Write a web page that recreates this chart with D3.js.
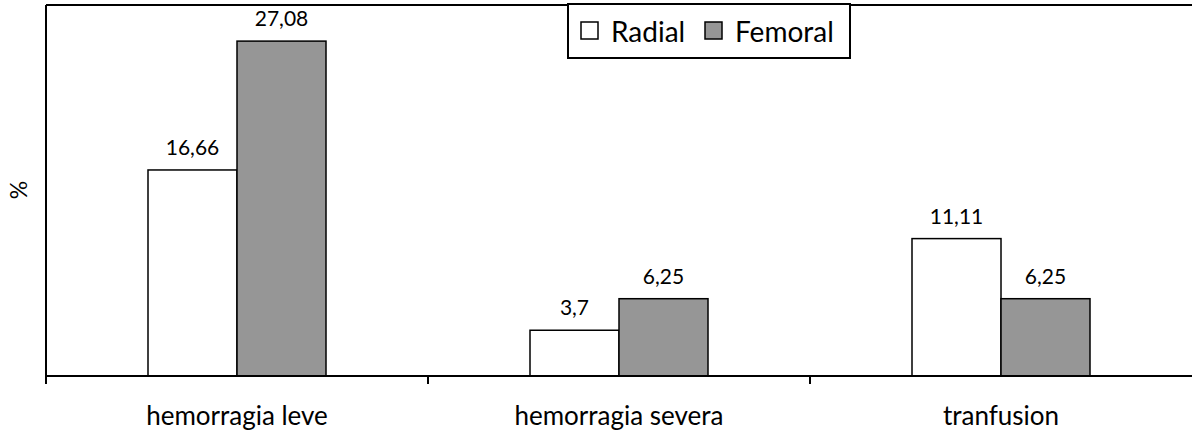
<!DOCTYPE html>
<html><head><meta charset="utf-8">
<script src="https://cdn.jsdelivr.net/npm/d3@7"></script>
<style>body{margin:0;background:#fff}svg{display:block}text{font-family:Lato,"Open Sans",sans-serif;fill:#000}</style>
</head><body>
<script>
const categories = ["hemorragia leve", "hemorragia severa", "tranfusion"];
const seriesNames = ["Radial", "Femoral"];
const radial = [16.66, 3.7, 11.11];
const femoral = [27.08, 6.25, 6.25];
const radialLabels = ["16,66", "3,7", "11,11"];
const femoralLabels = ["27,08", "6,25", "6,25"];
const colors = ["#ffffff", "#969696"];

const W = 1192, H = 436;
const m = {left: 46, right: 0, top: 5, bottom: 60};
const svg = d3.select("body").append("svg").attr("width", W).attr("height", H);
const x = d3.scaleBand().domain(categories).range([m.left, W]).paddingInner(0).paddingOuter(0);
const barW = 89;
const x1 = d3.scaleBand().domain(seriesNames)
  .range([x.bandwidth() / 2 - barW, x.bandwidth() / 2 + barW]).padding(0);
const y = d3.scaleLinear().domain([0, 30]).range([376, m.top]);

svg.append("line").attr("x1", m.left).attr("x2", W).attr("y1", m.top).attr("y2", m.top).attr("stroke", "#000").attr("stroke-width", 2);
svg.append("line").attr("x1", m.left).attr("x2", m.left).attr("y1", m.top).attr("y2", y(0)).attr("stroke", "#000").attr("stroke-width", 2);

const data = categories.map((c, i) => ({c, vals: [
  {s: "Radial", v: radial[i], l: radialLabels[i]},
  {s: "Femoral", v: femoral[i], l: femoralLabels[i]}]}));
const g = svg.selectAll("g.cat").data(data).join("g").attr("transform", d => `translate(${x(d.c)},0)`);
g.selectAll("rect").data(d => d.vals).join("rect")
  .attr("x", d => x1(d.s)).attr("width", x1.bandwidth())
  .attr("y", d => y(d.v)).attr("height", d => y(0) - y(d.v))
  .attr("fill", (d, i) => colors[i]).attr("stroke", "#000").attr("stroke-width", 1.5);
g.selectAll("text.lab").data(d => d.vals).join("text").attr("class", "lab")
  .attr("x", d => x1(d.s) + x1.bandwidth() / 2).attr("y", d => y(d.v) - 15)
  .attr("text-anchor", "middle").style("font-size", "21px").text(d => d.l);

const xAxis = svg.append("g").attr("transform", `translate(0,${y(0)})`);
xAxis.append("line").attr("x1", m.left).attr("x2", W).attr("stroke", "#000").attr("stroke-width", 2);
const tickPos = categories.map(c => x(c));
xAxis.selectAll("line.tk").data(tickPos).join("line").attr("class", "tk")
  .attr("x1", d => d).attr("x2", d => d).attr("y1", 0).attr("y2", 8).attr("stroke", "#000").attr("stroke-width", 2);
xAxis.selectAll("text").data(categories).join("text")
  .attr("x", d => x(d) + x.bandwidth() / 2).attr("y", 49)
  .attr("text-anchor", "middle").style("font-size", "26px").text(d => d);

svg.append("text").attr("transform", "translate(27,190) rotate(-90)").attr("text-anchor", "middle")
  .style("font-size", "23px").text("%");

const lg = svg.append("g");
lg.append("rect").attr("x", 568).attr("y", 4).attr("width", 282).attr("height", 54).attr("fill", "#fff").attr("stroke", "#000").attr("stroke-width", 2);
const lx = [581, 705];
seriesNames.forEach((s, i) => {
  lg.append("rect").attr("x", lx[i]).attr("y", 22).attr("width", 17).attr("height", 17).attr("fill", colors[i]).attr("stroke", "#000").attr("stroke-width", 1.5);
  lg.append("text").attr("x", lx[i] + 30).attr("y", 42).style("font-size", "28px").text(s);
});
</script>
</body></html>
